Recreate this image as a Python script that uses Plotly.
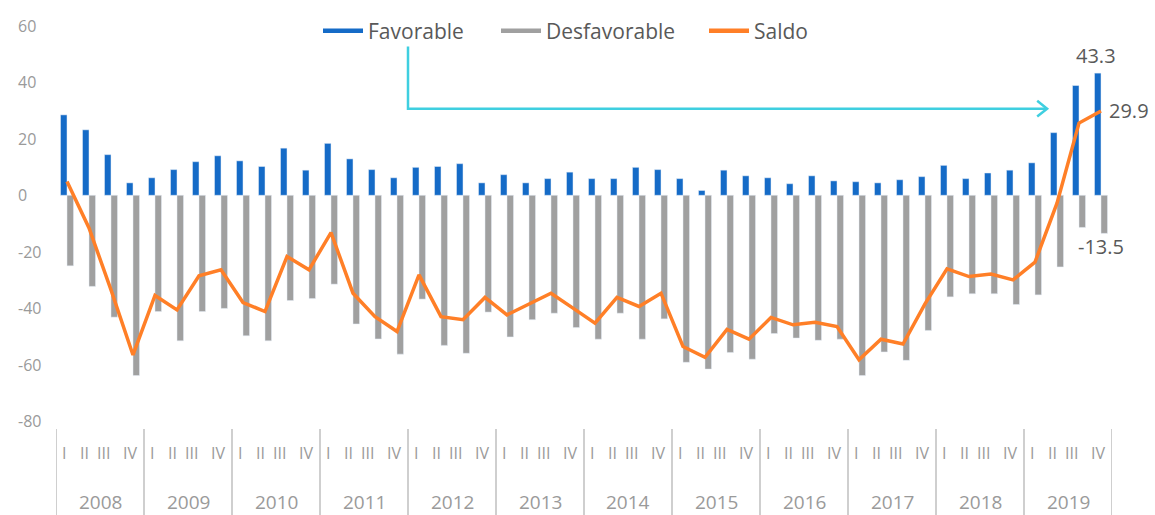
import plotly.graph_objects as go

years = ["2008", "2009", "2010", "2011", "2012", "2013", "2014", "2015", "2016", "2017", "2018", "2019"]
quarters = ["I", "II", "III", "IV"]

favorable = [28.5, 23.2, 14.4, 4.4, 6.2, 9.1, 11.9, 14.0, 12.2, 10.2, 16.7, 8.9,
             18.4, 12.9, 9.1, 6.2, 9.9, 10.2, 11.2, 4.4, 7.3, 4.4, 5.9, 8.2,
             5.9, 5.9, 9.9, 9.1, 5.9, 1.7, 8.9, 6.9, 6.2, 4.1, 6.9, 5.1,
             4.8, 4.4, 5.5, 6.6, 10.6, 5.9, 7.9, 8.9, 11.5, 22.2, 38.9, 43.3]

desfavorable = [-25.0, -32.3, -43.2, -63.9, -41.2, -51.6, -41.2, -40.1, -49.8, -51.6, -37.3, -36.6,
                -31.5, -45.6, -50.9, -56.3, -36.8, -53.2, -56.0, -41.4, -50.2, -44.1, -41.8, -46.9,
                -51.0, -41.8, -51.0, -43.8, -59.2, -61.6, -55.7, -58.1, -49.0, -50.6, -51.4, -51.0,
                -63.9, -55.5, -58.5, -47.9, -36.0, -34.9, -34.9, -38.7, -35.3, -25.4, -11.4, -13.5]

saldo = [4.9, -11.6, -33.5, -56.6, -35.5, -40.6, -28.5, -26.4, -38.0, -41.2, -21.7, -26.4,
         -13.2, -34.7, -43.0, -48.3, -28.2, -43.0, -44.1, -36.2, -42.4, -38.6, -34.7, -40.0,
         -45.3, -36.2, -39.4, -34.7, -53.6, -57.4, -47.5, -51.0, -43.3, -45.9, -45.0, -46.5,
         -58.3, -51.0, -52.7, -38.5, -26.1, -28.8, -27.9, -30.0, -23.7, -2.8, 25.6, 29.9]

y_ticks = [60, 40, 20, 0, -20, -40, -60, -80]

BLUE = "#156BC7"
GRAY = "#A0A0A0"
ORANGE = "#FF7F27"
CYAN = "#3FCFE0"
TXT = "#595959"
TICK = "#9A9A9A"
FONT = "Open Sans"

n = len(favorable)
xs = list(range(n))

fig = go.Figure()
fig.add_bar(x=xs, y=favorable, marker_color=BLUE, showlegend=False, name="Favorable")
fig.add_bar(x=xs, y=desfavorable, marker_color=GRAY, showlegend=False, name="Desfavorable")
fig.add_scatter(x=xs, y=saldo, mode="lines", line=dict(color=ORANGE, width=3.5),
                showlegend=False, name="Saldo")

# legend entries (line samples)
for nm, col, lg in [("Favorable", BLUE, "legend"), ("Desfavorable", GRAY, "legend2"), ("Saldo", ORANGE, "legend3")]:
    fig.add_scatter(x=[None], y=[None], mode="lines", line=dict(color=col, width=4.5),
                    name=nm, legend=lg, showlegend=True)

W, H = 1155, 515
L, R, T, B = 56, 43, 26, 94
pw = W - L - R
ph = H - T - B


def px_x(p):
    return (p - L) / pw


def px_y(p):
    return (H - B - p) / ph


leg_common = dict(orientation="h", font=dict(family=FONT, size=21, color=TXT),
                  bgcolor="rgba(0,0,0,0)", yanchor="middle", xanchor="left",
                  itemwidth=40, borderwidth=0)
fig.update_layout(
    legend=dict(x=px_x(318), y=px_y(31), **leg_common),
    legend2=dict(x=px_x(496), y=px_y(31), **leg_common),
    legend3=dict(x=px_x(704), y=px_y(31), **leg_common),
)

annotations = []
# y tick labels (left aligned)
for v in y_ticks:
    annotations.append(dict(x=px_x(16), xref="paper", y=v, yref="y", text=str(v),
                            showarrow=False, xanchor="left", yanchor="middle",
                            font=dict(family=FONT, size=16, color=TICK)))

# quarter labels
q_shift = [-3, -5, -8, -3]
for i in range(n):
    annotations.append(dict(x=i, xref="x", y=px_y(453), yref="paper", text=quarters[i % 4],
                            showarrow=False, xanchor="center", yanchor="middle",
                            xshift=q_shift[i % 4],
                            font=dict(family=FONT, size=16, color=TICK)))
# year labels
for k, yr in enumerate(years):
    annotations.append(dict(x=4 * k + 1.5, xref="x", y=px_y(501.5), yref="paper", text=yr,
                            showarrow=False, xanchor="center", yanchor="middle",
                            font=dict(family=FONT, size=19, color=TICK)))

# data labels
annotations.append(dict(x=n - 1, y=favorable[-1], xref="x", yref="y", text=f"{favorable[-1]:.1f}",
                        showarrow=False, xanchor="center", yanchor="bottom", xshift=-5, yshift=2,
                        font=dict(family=FONT, size=20, color=TXT)))
annotations.append(dict(x=n - 1, y=saldo[-1], xref="x", yref="y", text=f"{saldo[-1]:.1f}",
                        showarrow=False, xanchor="left", yanchor="middle", xshift=6, yshift=0,
                        font=dict(family=FONT, size=20, color=TXT)))
annotations.append(dict(x=n - 1, y=desfavorable[-1], xref="x", yref="y", text=f"{desfavorable[-1]:.1f}",
                        showarrow=False, xanchor="center", yanchor="top", xshift=0, yshift=2,
                        font=dict(family=FONT, size=20, color=TXT)))

shapes = []
# year separators below the plot
for k in range(len(years) + 1):
    shapes.append(dict(type="line", xref="x", yref="paper", x0=4 * k - 0.5, x1=4 * k - 0.5,
                       y0=px_y(429), y1=px_y(515), line=dict(color="#BFBFBF", width=1.5)))

# cyan connector arrow
ax0, ax1 = 15.5, 44.55
ay_top, ay_mid = 52.7, 30.7
shapes.append(dict(type="path", xref="x", yref="y",
                   path=f"M {ax0},{ay_top} L {ax0},{ay_mid} L {ax1},{ay_mid}",
                   line=dict(color=CYAN, width=2.5)))
shapes.append(dict(type="path", xref="x", yref="y",
                   path=f"M {ax1 - 0.45},{ay_mid + 2.8} L {ax1},{ay_mid} L {ax1 - 0.45},{ay_mid - 2.8}",
                   line=dict(color=CYAN, width=2.5)))

fig.update_layout(
    width=W, height=H,
    margin=dict(l=L, r=R, t=T, b=B, pad=0, autoexpand=False),
    paper_bgcolor="white", plot_bgcolor="white",
    barmode="group", bargap=0.41, bargroupgap=0,
    xaxis=dict(range=[-0.5, n - 0.5], showticklabels=False, showgrid=False, zeroline=False,
               showline=False, ticks=""),
    yaxis=dict(range=[-80, 60], showticklabels=False, showgrid=False, zeroline=False,
               showline=False, ticks=""),
    annotations=annotations, shapes=shapes,
    font=dict(family=FONT),
    hovermode=False,
)

fig.write_html("out.html", config={"displayModeBar": False},
               post_script="document.body.style.margin='0';document.body.style.overflow='hidden';")
